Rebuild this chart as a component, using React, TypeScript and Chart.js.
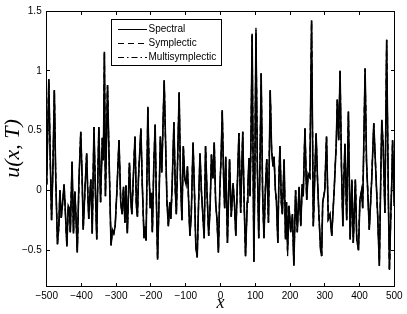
import { useEffect, useRef } from "react";
import { Chart, registerables } from "chart.js";

Chart.register(...registerables);

const xPositions = [
  -500, -497, -494, -490, -486, -482, -478, -474, -469, -465,
  -462, -458, -454, -450, -446, -442, -438, -435, -432, -427,
  -423, -419, -416, -412, -407, -402, -398, -395, -390, -385,
  -382, -379, -376, -373, -369, -364, -360, -356, -353, -350,
  -345, -340, -337, -334, -331, -325, -320, -315, -311, -307,
  -303, -298, -292, -287, -283, -279, -275, -272, -268, -262,
  -258, -255, -251, -246, -242, -239, -236, -229, -225, -220,
  -217, -214, -209, -205, -202, -199, -196, -192, -188, -185,
  -181, -177, -173, -169, -162, -158, -154, -150, -146, -143,
  -139, -134, -130, -127, -123, -119, -115, -111, -107, -103,
  -99, -95, -91, -88, -84, -79, -75, -71, -67, -63,
  -59, -55, -51, -47, -43, -39, -34, -30, -26, -22,
  -18, -14, -10, -6, -2, 2, 5, 9, 12, 15,
  20, 26, 31, 36, 40, 44, 49, 53, 58, 64,
  68, 72, 77, 79, 82, 85, 88, 91, 96, 99,
  102, 106, 110, 114, 117, 121, 125, 129, 133, 138,
  143, 147, 151, 154, 158, 161, 165, 168, 171, 175,
  178, 183, 187, 190, 193, 197, 202, 207, 211, 216,
  221, 226, 231, 235, 238, 243, 248, 252, 257, 262,
  267, 271, 275, 279, 283, 288, 291, 294, 300, 305,
  310, 315, 320, 327, 333, 336, 340, 344, 348, 352,
  355, 358, 363, 368, 373, 378, 382, 388, 392, 397,
  401, 406, 409, 416, 420, 428, 435, 441, 447, 452,
  457, 461, 464, 468, 473, 478, 483, 486, 490, 493,
  495, 500,
];

const spectralValues = [
  0.05, 0.5, 0.93, 0.3, -0.25, 0.2, 0.84, 0.1, -0.45, -0.3,
  0.0, -0.23, -0.1, 0.05, -0.2, -0.47, -0.13, -0.15, -0.35, 0.24,
  -0.36, -0.01, -0.2, -0.52, 0.1, 0.49, 0.1, -0.33, 0.0, 0.31,
  0.0, -0.24, -0.05, 0.09, -0.36, 0.53, 0.0, -0.41, 0.1, 0.53,
  -0.1, 0.44, 0.25, 1.16, -0.05, 0.88, 0.2, -0.46, -0.33, -0.36,
  -0.3, 0.0, 0.42, -0.1, -0.2, 0.03, -0.27, 0.04, -0.36, 0.23,
  -0.08, -0.2, 0.09, 0.45, -0.13, -0.22, 0.1, 0.52, 0.05, -0.4,
  -0.3, -0.42, 0.7, 0.1, -0.15, -0.02, -0.35, 0.2, 0.55, 0.0,
  -0.58, -0.1, 0.45, 0.15, 0.92, 0.4, -0.1, -0.3, -0.1, -0.24,
  0.05, 0.57, 0.0, -0.2, 0.3, 0.82, 0.1, -0.25, 0.37, 0.1,
  0.05, 0.2, -0.15, -0.38, -0.2, 0.4, 0.0, -0.47, -0.56, -0.1,
  0.31, 0.0, -0.2, -0.4, 0.37, 0.0, -0.38, -0.15, 0.3, 0.1,
  0.4, -0.1, -0.25, -0.52, 0.0, 0.3, 0.67, 0.1, -0.15, 0.28,
  -0.44, 0.26, -0.22, 0.06, -0.1, -0.38, 0.1, 0.48, -0.19, 0.49,
  -0.1, -0.55, -0.1, 0.05, 0.27, -0.05, 0.5, 1.31, -0.6, 0.2,
  1.32, 0.2, -0.4, 0.3, 0.98, 0.0, -0.4, 0.0, 0.26, -0.27,
  0.84, 0.34, 0.2, 0.28, 0.0, -0.1, -0.44, 0.1, 0.37, -0.1,
  -0.2, 0.26, -0.41, -0.1, -0.5, -0.13, -0.35, -0.2, -0.63, 0.0,
  -0.35, 0.03, -0.3, 0.05, -0.05, 0.52, -0.08, 0.14, 0.11, 1.42,
  -0.3, 0.1, 0.48, 0.1, -0.2, -0.5, -0.55, -0.1, 0.0, 0.45,
  -0.24, -0.2, -0.38, 0.0, 0.39, 0.76, 0.42, 1.0, 0.2, -0.3,
  0.1, 0.39, -0.25, 0.66, -0.41, 0.09, -0.44, 0.09, -0.41, -0.5,
  -0.08, 0.0, -0.15, 1.02, 0.25, -0.33, 0.09, 0.56, 0.14, -0.2,
  -0.63, 0.1, 0.59, 0.37, -0.19, 1.26, -0.08, -0.66, -0.2, 0.1,
  0.42, -0.13,
];

const symplecticValues = [
  0.05, 0.5, 0.93, 0.3, -0.25, 0.2, 0.84, 0.1, -0.45, -0.3,
  0.0, -0.23, -0.1, 0.05, -0.2, -0.47, -0.13, -0.15, -0.35, 0.24,
  -0.36, -0.01, -0.2, -0.52, 0.1, 0.49, 0.1, -0.33, 0.0, 0.31,
  0.0, -0.24, -0.05, 0.09, -0.36, 0.53, 0.0, -0.41, 0.1, 0.53,
  -0.1, 0.44, 0.25, 1.16, -0.05, 0.88, 0.2, -0.46, -0.33, -0.36,
  -0.3, 0.0, 0.42, -0.1, -0.2, 0.03, -0.27, 0.04, -0.36, 0.23,
  -0.08, -0.2, 0.09, 0.45, -0.13, -0.22, 0.1, 0.52, 0.05, -0.4,
  -0.3, -0.42, 0.7, 0.1, -0.15, -0.02, -0.35, 0.2, 0.55, 0.0,
  -0.58, -0.1, 0.45, 0.15, 0.92, 0.4, -0.1, -0.3, -0.1, -0.24,
  0.05, 0.57, 0.0, -0.2, 0.3, 0.82, 0.1, -0.25, 0.37, 0.1,
  0.05, 0.2, -0.15, -0.38, -0.2, 0.4, 0.0, -0.47, -0.56, -0.1,
  0.31, 0.0, -0.2, -0.4, 0.37, 0.0, -0.38, -0.15, 0.3, 0.1,
  0.4, -0.1, -0.25, -0.52, 0.0, 0.3, 0.67, 0.1, -0.15, 0.28,
  -0.44, 0.26, -0.22, 0.06, -0.1, -0.38, 0.1, 0.48, -0.19, 0.49,
  -0.1, -0.55, -0.1, 0.05, 0.27, -0.05, 0.5, 1.31, -0.6, 0.2,
  1.36, 0.2, -0.4, 0.3, 0.98, 0.0, -0.4, 0.0, 0.26, -0.27,
  0.84, 0.34, 0.2, 0.28, 0.0, -0.1, -0.44, 0.1, 0.37, -0.1,
  -0.2, 0.26, -0.41, -0.1, -0.55, -0.13, -0.35, -0.2, -0.63, 0.0,
  -0.35, 0.03, -0.3, 0.05, -0.05, 0.52, -0.08, 0.14, 0.11, 1.42,
  -0.3, 0.1, 0.48, 0.1, -0.2, -0.5, -0.55, -0.1, 0.0, 0.45,
  -0.24, -0.2, -0.38, 0.0, 0.39, 0.76, 0.42, 1.0, 0.2, -0.3,
  0.1, 0.39, -0.25, 0.66, -0.41, 0.09, -0.44, 0.09, -0.41, -0.5,
  -0.08, 0.0, -0.15, 1.02, 0.25, -0.33, 0.09, 0.56, 0.14, -0.2,
  -0.63, 0.1, 0.59, 0.37, -0.19, 1.26, -0.08, -0.68, -0.2, 0.1,
  0.42, -0.13,
];

const multisymplecticValues = [
  0.05, 0.5, 0.93, 0.3, -0.25, 0.2, 0.84, 0.1, -0.45, -0.3,
  0.0, -0.23, -0.1, 0.05, -0.2, -0.47, -0.13, -0.15, -0.35, 0.24,
  -0.36, -0.01, -0.2, -0.52, 0.1, 0.49, 0.1, -0.33, 0.0, 0.31,
  0.0, -0.24, -0.05, 0.09, -0.36, 0.53, 0.0, -0.41, 0.1, 0.53,
  -0.1, 0.44, 0.25, 1.16, -0.05, 0.88, 0.2, -0.46, -0.33, -0.36,
  -0.3, 0.0, 0.42, -0.1, -0.2, 0.03, -0.27, 0.04, -0.36, 0.23,
  -0.08, -0.2, 0.09, 0.45, -0.13, -0.22, 0.1, 0.52, 0.05, -0.4,
  -0.3, -0.42, 0.7, 0.1, -0.15, -0.02, -0.35, 0.2, 0.55, 0.0,
  -0.58, -0.1, 0.45, 0.15, 0.92, 0.4, -0.1, -0.3, -0.1, -0.24,
  0.05, 0.57, 0.0, -0.2, 0.3, 0.82, 0.1, -0.25, 0.37, 0.1,
  0.05, 0.2, -0.15, -0.38, -0.2, 0.4, 0.0, -0.47, -0.56, -0.1,
  0.31, 0.0, -0.2, -0.4, 0.37, 0.0, -0.38, -0.15, 0.3, 0.1,
  0.4, -0.1, -0.25, -0.52, 0.0, 0.3, 0.67, 0.1, -0.15, 0.28,
  -0.44, 0.26, -0.22, 0.06, -0.1, -0.38, 0.1, 0.48, -0.19, 0.49,
  -0.1, -0.55, -0.1, 0.05, 0.27, -0.05, 0.5, 1.31, -0.6, 0.2,
  1.34, 0.2, -0.4, 0.3, 0.98, 0.0, -0.4, 0.0, 0.26, -0.27,
  0.84, 0.34, 0.2, 0.28, 0.0, -0.1, -0.44, 0.1, 0.37, -0.1,
  -0.2, 0.26, -0.41, -0.1, -0.5, -0.13, -0.35, -0.2, -0.63, 0.0,
  -0.35, 0.03, -0.3, 0.05, -0.05, 0.52, -0.08, 0.14, 0.11, 1.42,
  -0.3, 0.1, 0.48, 0.1, -0.2, -0.5, -0.55, -0.1, 0.0, 0.45,
  -0.24, -0.2, -0.38, 0.0, 0.39, 0.76, 0.42, 1.0, 0.2, -0.3,
  0.1, 0.39, -0.25, 0.66, -0.41, 0.09, -0.44, 0.09, -0.41, -0.5,
  -0.08, 0.0, -0.15, 1.02, 0.25, -0.33, 0.09, 0.56, 0.14, -0.2,
  -0.63, 0.1, 0.59, 0.37, -0.19, 1.26, -0.08, -0.66, -0.2, 0.1,
  0.42, -0.13,
];

const seriesNames = ["Spectral", "Symplectic", "Multisymplectic"];
const xTickValues = [-500, -400, -300, -200, -100, 0, 100, 200, 300, 400, 500];
const yTickValues = [-0.5, 0, 0.5, 1, 1.5];

const SANS = "'Liberation Sans', Arial, Helvetica, sans-serif";
const SERIF = "'Liberation Serif', 'Times New Roman', serif";

const fmt = (v: number) => (v < 0 ? "\u2212" + String(-v) : String(v));

const boxAndTicks = {
  id: "boxAndTicks",
  afterDatasetsDraw(chart: any) {
    const { ctx, chartArea, scales } = chart;
    const L = Math.floor(chartArea.left) + 0.5;
    const R = Math.floor(chartArea.right) + 0.5;
    const T = Math.floor(chartArea.top) + 0.5;
    const B = Math.floor(chartArea.bottom) + 0.5;
    const len = 3.5;
    ctx.save();
    ctx.strokeStyle = "#000";
    ctx.lineWidth = 1;
    ctx.setLineDash([]);
    ctx.strokeRect(L, T, R - L, B - T);
    ctx.beginPath();
    xTickValues.forEach((v) => {
      const px = Math.floor(scales.x.getPixelForValue(v)) + 0.5;
      ctx.moveTo(px, B);
      ctx.lineTo(px, B - len);
      ctx.moveTo(px, T);
      ctx.lineTo(px, T + len);
    });
    yTickValues.forEach((v) => {
      const py = Math.floor(scales.y.getPixelForValue(v)) + 0.5;
      ctx.moveTo(L, py);
      ctx.lineTo(L + len, py);
      ctx.moveTo(R, py);
      ctx.lineTo(R - len, py);
    });
    ctx.stroke();
    ctx.restore();
  },
};

const legendBox = {
  id: "legendBox",
  afterDatasetsDraw(chart: any) {
    const { ctx, chartArea } = chart;
    const bx = Math.floor(chartArea.left + 65) + 0.5;
    const by = Math.floor(chartArea.top + 8) + 0.5;
    const bw = 110;
    const bh = 46;
    ctx.save();
    ctx.fillStyle = "#fff";
    ctx.fillRect(bx, by, bw, bh);
    ctx.strokeStyle = "#000";
    ctx.lineWidth = 1;
    ctx.setLineDash([]);
    ctx.strokeRect(bx, by, bw, bh);
    chart.data.datasets.forEach((ds: any, i: number) => {
      const yy = Math.floor(by + 10 + i * 14) + 0.5;
      ctx.beginPath();
      ctx.setLineDash(ds.borderDash || []);
      ctx.lineWidth = 1;
      ctx.strokeStyle = "#000";
      ctx.moveTo(bx + 6.5, yy);
      ctx.lineTo(bx + 35.5, yy);
      ctx.stroke();
      ctx.setLineDash([]);
      ctx.fillStyle = "#000";
      ctx.font = `10px ${SANS}`;
      ctx.textBaseline = "middle";
      ctx.textAlign = "left";
      ctx.fillText(ds.label, bx + 37, yy);
    });
    ctx.restore();
  },
};

export default function App() {
  const canvasRef = useRef<HTMLCanvasElement | null>(null);

  useEffect(() => {
    const canvas = canvasRef.current;
    if (!canvas) return;
    const makeData = (vals: number[]) => xPositions.map((x, i) => ({ x, y: vals[i] }));
    const chart = new Chart(canvas, {
      type: "line",
      data: {
        datasets: [
          {
            label: seriesNames[0],
            data: makeData(spectralValues),
            borderColor: "#000",
            borderWidth: 1.6,
            pointRadius: 0,
            tension: 0,
            fill: false,
          },
          {
            label: seriesNames[1],
            data: makeData(symplecticValues),
            borderColor: "#000",
            borderWidth: 1.3,
            borderDash: [6, 4],
            pointRadius: 0,
            tension: 0,
            fill: false,
          },
          {
            label: seriesNames[2],
            data: makeData(multisymplecticValues),
            borderColor: "#000",
            borderWidth: 1.3,
            borderDash: [6, 3, 1.5, 3],
            pointRadius: 0,
            tension: 0,
            fill: false,
          },
        ],
      },
      options: {
        responsive: false,
        animation: false,
        devicePixelRatio: 1,
        events: [],
        layout: { padding: { left: 0, right: 12.7, top: 11, bottom: 0 } },
        plugins: { legend: { display: false }, tooltip: { enabled: false } },
        scales: {
          x: {
            type: "linear",
            min: -500,
            max: 500,
            afterBuildTicks: (s: any) => {
              s.ticks = xTickValues.map((v) => ({ value: v }));
            },
            afterFit: (s: any) => {
              s.height = 28;
            },
            grid: { display: false, drawTicks: false, tickLength: 0 },
            border: { display: false },
            ticks: {
              color: "#000",
              font: { family: SANS, size: 10 },
              padding: 4,
              maxRotation: 0,
              autoSkip: false,
              callback: (v: any) => fmt(Number(v)),
            },
            title: {
              display: true,
              text: "x",
              color: "#000",
              font: { family: SERIF, size: 18, style: "italic" },
              padding: 0,
            },
          },
          y: {
            type: "linear",
            min: -0.8,
            max: 1.5,
            afterBuildTicks: (s: any) => {
              s.ticks = yTickValues.map((v) => ({ value: v }));
            },
            afterFit: (s: any) => {
              s.width = 46.7;
            },
            grid: { display: false, drawTicks: false, tickLength: 0 },
            border: { display: false },
            ticks: {
              color: "#000",
              font: { family: SANS, size: 10 },
              padding: 5,
              autoSkip: false,
              callback: (v: any) => fmt(Number(v)),
            },
            title: {
              display: true,
              text: "u(x, T)",
              color: "#000",
              font: { family: SERIF, size: 22, style: "italic" },
              padding: { top: 0, bottom: 0 },
            },
          },
        },
      },
      plugins: [boxAndTicks, legendBox],
    } as any);
    return () => chart.destroy();
  }, []);

  return (
    <div style={{ position: "absolute", left: 0, top: 0, width: 407, height: 314, background: "#fff" }}>
      <canvas ref={canvasRef} width={407} height={314} />
    </div>
  );
}
